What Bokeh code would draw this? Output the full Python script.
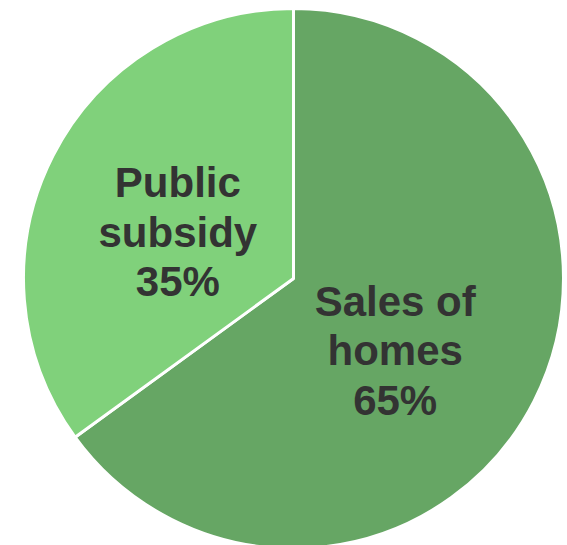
import math
from bokeh.plotting import figure
from bokeh.models import Range1d, ColumnDataSource
from bokeh.core.properties import value
from bokeh.embed import file_html
from bokeh.resources import INLINE

# data
categories = ["Sales of homes", "Public subsidy"]
label_text = ["Sales of\nhomes", "Public\nsubsidy"]
shares = [65, 35]
colors = ["#66a664", "#80d17b"]

R = 270
total = sum(shares)
starts, ends, lx, ly, labels = [], [], [], [], []
acc = 0.0
for s, t in zip(shares, label_text):
    a0 = math.pi / 2 - 2 * math.pi * acc / total
    a1 = math.pi / 2 - 2 * math.pi * (acc + s) / total
    starts.append(a0)
    ends.append(a1)
    mid = (a0 + a1) / 2
    lx.append(0.46 * R * math.cos(mid))
    ly.append(0.46 * R * math.sin(mid))
    labels.append(f"{t}\n{s}%")
    acc += s

src = ColumnDataSource(dict(start=starts, end=ends, color=colors,
                            lx=lx, ly=ly, label=labels,
                            xo=[-9, -5], yo=[16, 10]))

p = figure(width=567, height=545, output_backend="svg", toolbar_location=None,
           x_range=Range1d(-293, 274), y_range=Range1d(-267, 278),
           min_border=0)
p.axis.visible = False
p.grid.visible = False
p.outline_line_color = None
p.background_fill_color = "white"

p.wedge(x=0, y=0, radius=R, start_angle="start", end_angle="end",
        direction="clock", fill_color="color", line_color="white",
        line_width=3, source=src)

p.text(x="lx", y="ly", text="label", x_offset="xo", y_offset="yo", source=src,
       text_font=value("Liberation Sans"), text_font_style="bold",
       text_font_size="42px", text_color="#333333", text_align="center",
       text_baseline="middle", text_line_height=1.05)

open("out.html", "w").write(file_html(p, INLINE))
